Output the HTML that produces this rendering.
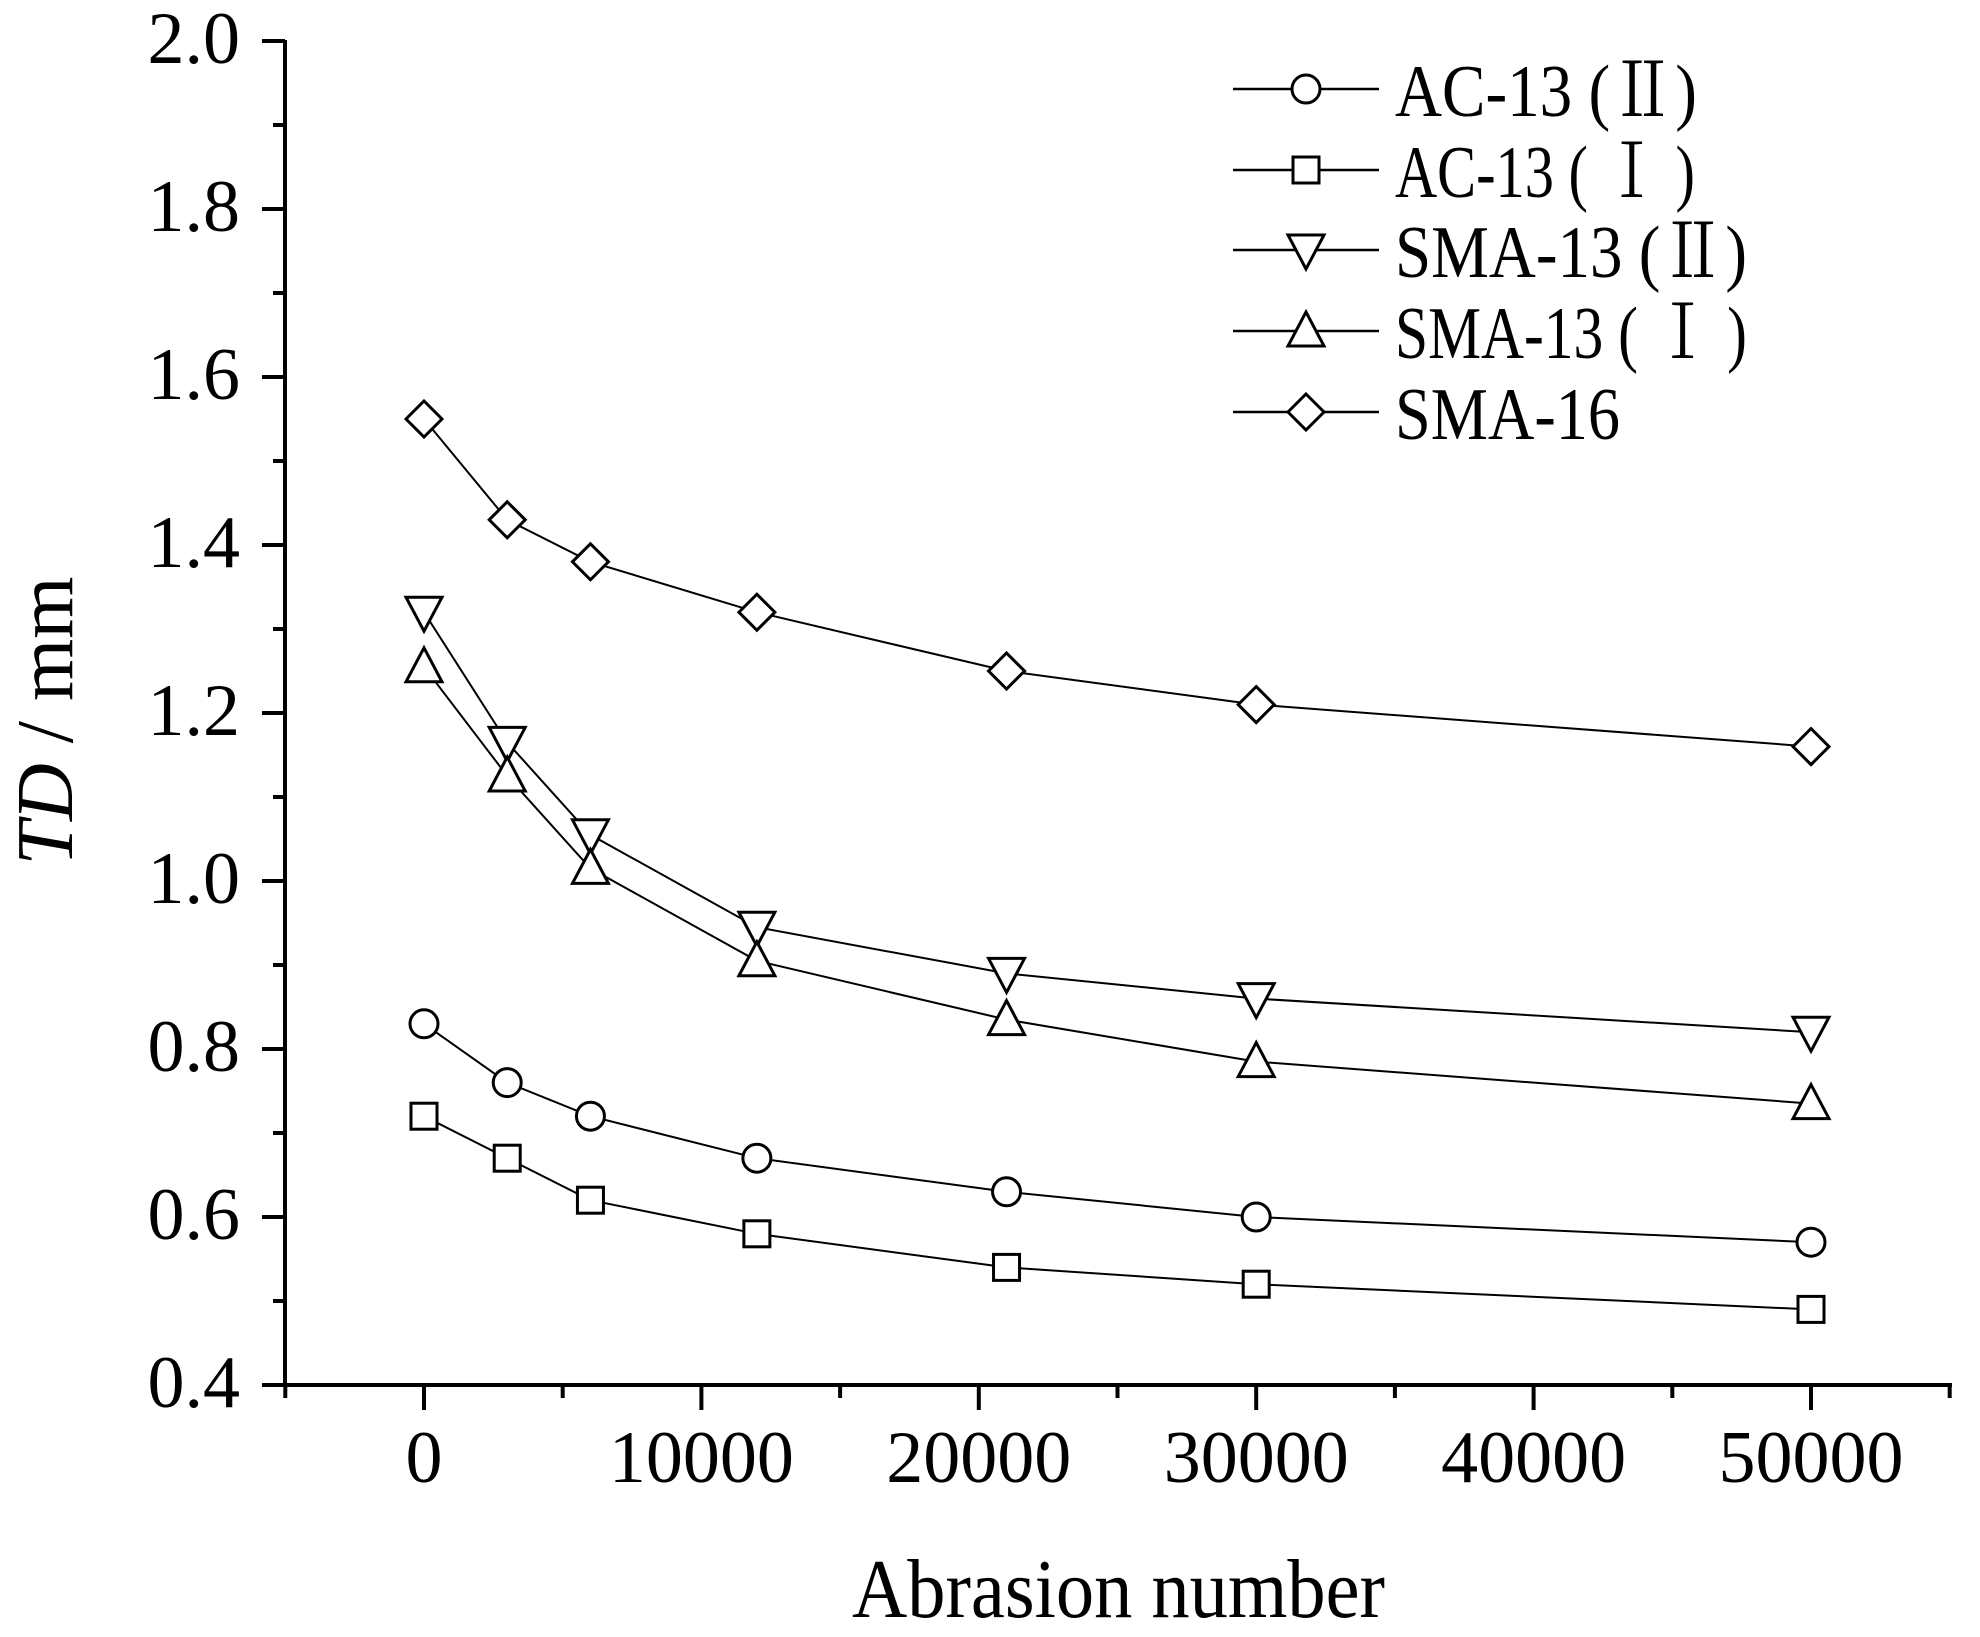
<!DOCTYPE html>
<html><head><meta charset="utf-8">
<style>html,body{margin:0;padding:0;background:#fff}svg{display:block}</style></head>
<body>
<svg id="s" width="1980" height="1637" xmlns="http://www.w3.org/2000/svg" font-family="'Liberation Serif', serif"></svg>
<script>
const s=document.getElementById('s');
const X=v=>424+v*0.027740, Y=v=>1385-(v-0.4)*840;
let h='';
h+=`<line x1="285" y1="40" x2="285" y2="1387" stroke="#000" stroke-width="4"/>`;
h+=`<line x1="283" y1="1385" x2="1952" y2="1385" stroke="#000" stroke-width="4"/>`;
for(let i=0;i<=16;i++){const v=0.4+i*0.1,y=Y(v),maj=i%2==0;
 h+=`<line x1="${maj?262:273}" y1="${y}" x2="285" y2="${y}" stroke="#000" stroke-width="4"/>`;
 if(maj)h+=`<text x="240" y="${y+22}" font-size="74" text-anchor="end">${v.toFixed(1)}</text>`;}
for(let i=-1;i<=11;i++){const v=i*5000,x=X(v),maj=i%2==0;
 h+=`<line x1="${x}" y1="1385" x2="${x}" y2="${maj?1410:1398}" stroke="#000" stroke-width="4"/>`;
 if(maj&&i>=0)h+=`<text x="${x}" y="1482" font-size="74" text-anchor="middle">${v}</text>`;}
h+=`<text x="852" y="1617" font-size="84" textLength="533" lengthAdjust="spacingAndGlyphs">Abrasion number</text>`;
h+=`<text transform="translate(72,721) rotate(-90)" font-size="80" text-anchor="middle"><tspan font-style="italic">TD</tspan> / mm</text>`;
const xs=[0,3000,6000,12000,21000,30000,50000];
const ser=[
 ['c',[0.83,0.76,0.72,0.67,0.63,0.60,0.57]],
 ['s',[0.72,0.67,0.62,0.58,0.54,0.52,0.49]],
 ['d',[1.32,1.165,1.055,0.945,0.89,0.86,0.82]],
 ['u',[1.255,1.125,1.015,0.905,0.835,0.785,0.735]],
 ['r',[1.55,1.43,1.38,1.32,1.25,1.21,1.16]]];
function mk(t,x,y){const a='fill="#fff" stroke="#000" stroke-width="3"';
 if(t=='c')return `<circle cx="${x}" cy="${y}" r="14" ${a}/>`;
 if(t=='s')return `<rect x="${x-13}" y="${y-13}" width="26" height="26" ${a}/>`;
 if(t=='d')return `<polygon points="${x-18},${y-15} ${x+18},${y-15} ${x},${y+19}" ${a}/>`;
 if(t=='u')return `<polygon points="${x-18},${y+15} ${x+18},${y+15} ${x},${y-19}" ${a}/>`;
 return `<polygon points="${x},${y-18} ${x+18},${y} ${x},${y+18} ${x-18},${y}" ${a}/>`;}
for(const [t,d] of ser){
 h+=`<polyline fill="none" stroke="#000" stroke-width="2" points="${xs.map((x,i)=>X(x)+','+Y(d[i])).join(' ')}"/>`;
 xs.forEach((x,i)=>h+=mk(t,X(x),Y(d[i])));}
const leg=[['c','AC-13 (Ⅱ)',302],['s','AC-13 ( Ⅰ )',300],['d','SMA-13 (Ⅱ)',352],['u','SMA-13 ( Ⅰ )',352],['r','SMA-16',225]];
const ly=[89,170,250,331,412];
leg.forEach(([t,l,w],i)=>{const y=ly[i];
 h+=`<line x1="1233" y1="${y}" x2="1379" y2="${y}" stroke="#000" stroke-width="2.5"/>`+mk(t,1306,y);
 h+=`<text x="1395" y="${y+27}" font-size="74" textLength="${w}" lengthAdjust="spacingAndGlyphs" font-family="'Liberation Serif','Noto Serif CJK SC',serif">${l}</text>`;});
s.innerHTML=h;
</script>
</body></html>
